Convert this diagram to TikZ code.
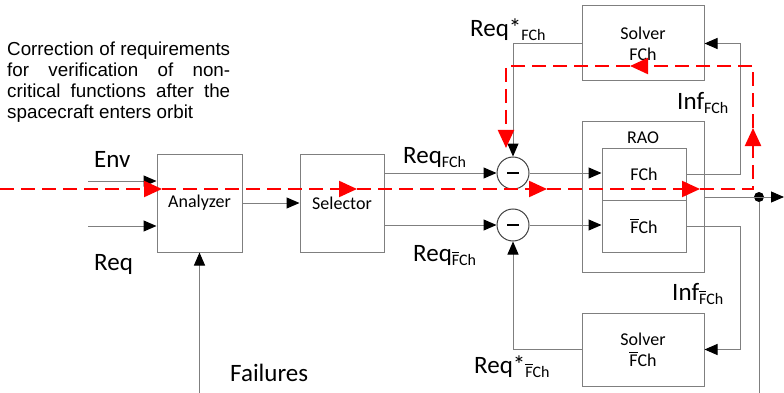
\documentclass[tikz,border=0pt]{standalone}
\usepackage{fontspec}
\setmainfont{Carlito}
\newfontfamily\arialf{Liberation Sans}
\usetikzlibrary{arrows.meta}
\definecolor{ln}{HTML}{7F7F7F}
\definecolor{rd}{HTML}{FF0000}
\newcommand\olF{\makebox[0pt][l]{\raisebox{0.72em}{\rule{0.46em}{0.07em}}}F}
\newcommand\subtx[1]{\raisebox{-4pt}{\fontsize{16}{16}\selectfont #1}}
\begin{document}
\begin{tikzpicture}[x=1pt,y=-1pt,
  blk/.style={draw=ln, line width=1pt, inner sep=0pt, align=center, font=\fontsize{18}{21}\selectfont},
  conn/.style={draw=ln, line width=1pt, -{Triangle[length=13pt,width=11pt,color=black]}},
  plain/.style={draw=ln, line width=1pt},
  lab/.style={anchor=base west, inner sep=0pt, font=\fontsize{25}{25}\selectfont},
  para/.style={anchor=base west, inner sep=0pt, font=\arialf\fontsize{18.8}{21}\selectfont},
  rdash/.style={draw=rd, line width=2.2pt, dash pattern=on 14pt off 7pt, -{Triangle[length=18pt,width=16pt]}},
  sumc/.style={circle, draw=black!75, line width=1pt, minimum size=32pt, inner sep=0pt}
]
\useasboundingbox (0,0) rectangle (784,393);

% paragraph
\node[para] (t1) at (7,56) {\makebox[223pt][s]{Correction of requirements}};
\node[para] (t2) at (7,77) {\makebox[223pt][s]{for verification of non-}};
\node[para] (t3) at (7,98) {\makebox[223pt][s]{critical functions after the}};
\node[para] (t4) at (7,119) {spacecraft enters orbit};

% blocks
\node[blk, minimum width=85pt, minimum height=98pt] (ana) at (199.5,203) {Analyzer};
\node[blk, minimum width=84pt, minimum height=98pt] (sel) at (342,203) {Selector};
\node[blk, minimum width=122pt, minimum height=75pt] (sol1) at (643,43.5) {Solver\\FCh};
\node[blk, minimum width=122pt, minimum height=150pt] (rao) at (643,197) {};
\node[inner sep=0pt, font=\fontsize{18}{21}\selectfont] (raol) at (643,138) {RAO};
\node[blk, minimum width=84pt, minimum height=52pt] (fch) at (644,174) {FCh};
\node[blk, minimum width=84pt, minimum height=52pt] (fbch) at (644,226) {\olF Ch};
\node[blk, minimum width=122pt, minimum height=73pt] (sol2) at (643,349.5) {Solver\\\olF Ch};
\node[sumc] (c1) at (513,173) {\rule{12pt}{1.3pt}};
\node[sumc] (c2) at (513,225) {\rule{12pt}{1.3pt}};
\node[circle, fill=black, minimum size=10pt, inner sep=0pt] (dot) at (759,197) {};

% coordinates
\coordinate (envs) at (88,181);
\coordinate (reqs) at (88,226);
\coordinate (fx) at (740,0);
\coordinate (oute) at (784,197);
\coordinate (dotb) at (759,393);
\coordinate (fs) at (200,393);

% connectors
\draw[conn] (envs) -- (envs -| ana.west);
\draw[conn] (reqs) -- (reqs -| ana.west);
\draw[conn] (ana) -- (sel);
\draw[conn] (ana.south |- fs) -- (ana.south);
\draw[conn] (sel.east |- c1) -- (c1);
\draw[conn] (sel.east |- c2) -- (c2);
\draw[conn] (c1) -- (c1 -| fch.west);
\draw[conn] (c2) -- (c2 -| fbch.west);
\draw[conn] (sol1.west) -| (c1);
\draw[conn] (sol2.west) -| (c2);
\draw[conn] (fch.east) -- (fch.east -| fx) |- (sol1.east);
\draw[conn] (fbch.east) -- (fbch.east -| fx) |- (sol2.east);
\draw[conn] (rao.east) -- (oute);
\draw[plain] (dot) -- (dotb);

% labels
\node[lab] (lenv) at (94,167) {Env};
\node[lab] (lreq) at (94,270) {Req};
\node[lab] (lrs1) at (470,37) {Req*\subtx{FCh}};
\node[lab] (lrf) at (403,163) {Req\subtx{FCh}};
\node[lab] (linf) at (677,110) {Inf\subtx{FCh}};
\node[lab] (lrfb) at (413,261) {Req\subtx{\olF Ch}};
\node[lab] (linfb) at (672,300) {Inf\subtx{\olF Ch}};
\node[lab] (lrs2) at (474,373) {Req*\subtx{\olF Ch}};
\node[lab] (lfail) at (230,381) {Failures};

% red path
\coordinate (r0) at (0,189);
\coordinate (r1) at (162,189);
\coordinate (r2) at (357,189);
\coordinate (r3) at (547,189);
\coordinate (r4) at (700,189);
\coordinate (r5) at (753,189);
\coordinate (r6) at (753,128);
\coordinate (r7) at (753,66);
\coordinate (r8) at (630,66);
\coordinate (r9) at (506,66);
\coordinate (r10) at (506,148);
\draw[rdash] (r0) -- (r1);
\draw[rdash] (r1) -- (r2);
\draw[rdash] (r2) -- (r3);
\draw[rdash] (r3) -- (r4);
\draw[rdash] (r4) -- (r5) -- (r6);
\draw[rdash] (r6) -- (r7) -- (r8);
\draw[rdash] (r8) -- (r9) -- (r10);
\end{tikzpicture}
\end{document}
